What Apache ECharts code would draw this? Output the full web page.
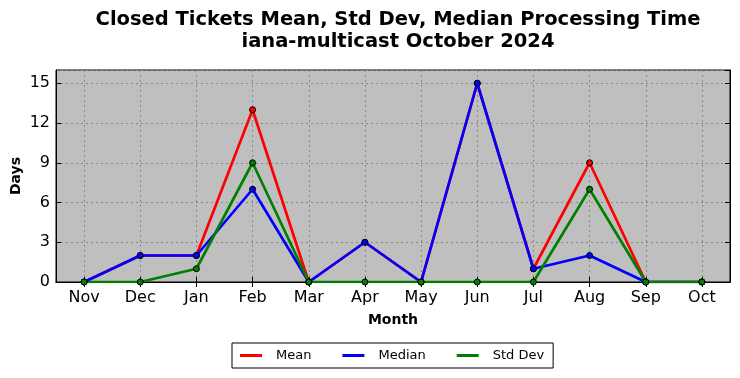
<!DOCTYPE html>
<html><head><meta charset="utf-8">
<script src="https://cdn.jsdelivr.net/npm/echarts@6/dist/echarts.min.js"></script>
<style>html,body{margin:0;padding:0;background:#fff}#c{width:740px;height:378px}</style>
</head><body><div id="c"></div>
<script>
const months = ['Nov','Dec','Jan','Feb','Mar','Apr','May','Jun','Jul','Aug','Sep','Oct'];
const meanVals = [0, 2, 2, 13, 0, 3, 0, 15, 1, 9, 0, 0];
const medianVals = [0, 2, 2, 7, 0, 3, 0, 15, 1, 2, 0, 0];
const stdVals = [0, 0, 1, 9, 0, 0, 0, 0, 0, 7, 0, 0];
const yTicks = [0, 3, 6, 9, 12, 15];
const titleLines = ['Closed Tickets Mean, Std Dev, Median Processing Time', 'iana-multicast October 2024'];

const font = 'DejaVu Sans';
const chart = echarts.init(document.getElementById('c'), null, {renderer: 'canvas'});
function mkSeries(name, data, color) {
  return {
    name, type: 'line', data, xAxisIndex: 0, yAxisIndex: 0,
    symbol: 'circle', symbolSize: 6, showSymbol: true,
    lineStyle: {color, width: 2.7},
    itemStyle: {color, borderColor: '#000', borderWidth: 1},
    emphasis: {disabled: true}, animation: false
  };
}
const splitLine = {show: true, alignWithLabel: true, lineStyle: {color: '#888', type: [2, 3], width: 1}};
chart.setOption({
  animation: false,
  title: {
    text: titleLines.join('\n'), left: 393, textAlign: 'center', top: 4,
    textStyle: {fontFamily: font, fontSize: 19.5, fontWeight: 'bold', color: '#000', lineHeight: 22}
  },
  grid: {left: 56, right: 10, top: 70, bottom: 96, outerBoundsMode: 'none', containLabel: false,
    show: true, backgroundColor: '#bfbfbf', borderColor: '#000', borderWidth: 1},
  legend: {
    left: 232, top: 343, orient: 'horizontal',
    borderColor: '#000', borderWidth: 1, padding: [6, 9, 6, 8], itemGap: 31,
    itemWidth: 22, itemHeight: 3, icon: 'rect',
    itemStyle: {borderWidth: 0},
    data: ['Mean', 'Median', 'Std Dev'],
    textStyle: {fontFamily: font, fontSize: 13, color: '#000', padding: [0, 0, 0, 9]}
  },
  xAxis: [{
    type: 'category', data: months, boundaryGap: true, position: 'bottom',
    name: 'Month', nameLocation: 'middle', nameGap: 31, nameMoveOverlap: false,
    nameTextStyle: {fontFamily: font, fontSize: 14, fontWeight: 'bold', color: '#000'},
    axisLine: {show: true, lineStyle: {color: '#000', width: 1}},
    axisTick: {show: true, inside: true, alignWithLabel: true, length: 5, lineStyle: {color: '#000'}},
    axisLabel: {fontFamily: font, fontSize: 16, color: '#000', margin: 8, interval: 0},
    splitLine
  }, {
    type: 'category', data: months, boundaryGap: true, position: 'top',
    axisLine: {show: true, lineStyle: {color: '#000'}},
    axisTick: {show: true, inside: true, alignWithLabel: true, length: 5, lineStyle: {color: '#000'}},
    axisLabel: {show: false}, splitLine: {show: false}
  }],
  yAxis: [{
    type: 'value', min: 0, max: 16, interval: 3, position: 'left',
    name: 'Days', nameLocation: 'middle', nameGap: 33, nameRotate: 90, nameMoveOverlap: false,
    nameTextStyle: {fontFamily: font, fontSize: 14, fontWeight: 'bold', color: '#000'},
    axisLine: {show: true, lineStyle: {color: '#000'}},
    axisTick: {show: true, inside: true, length: 5, lineStyle: {color: '#000'}},
    axisLabel: {fontFamily: font, fontSize: 16, color: '#000', margin: 6,
      formatter: v => yTicks.includes(v) ? String(v) : '', showMaxLabel: false},
    splitLine: {show: true, lineStyle: {color: '#888', type: [2, 3], width: 1}}
  }, {
    type: 'value', min: 0, max: 16, interval: 3, position: 'right',
    axisLine: {show: true, lineStyle: {color: '#000'}},
    axisTick: {show: true, inside: true, length: 5, lineStyle: {color: '#000'}},
    axisLabel: {show: false}, splitLine: {show: false}
  }],
  series: [
    mkSeries('Mean', meanVals, '#ff0000'),
    mkSeries('Median', medianVals, '#0000ff'),
    mkSeries('Std Dev', stdVals, '#008000')
  ]
});
</script></body></html>
